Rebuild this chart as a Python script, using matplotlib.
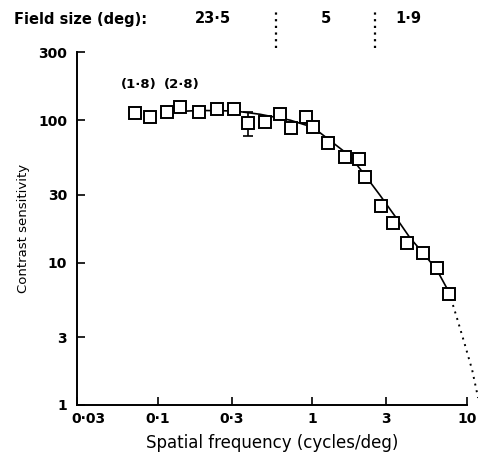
import numpy as np
import matplotlib.pyplot as plt
from matplotlib.transforms import blended_transform_factory, ScaledTranslation

plt.rcParams['font.family'] = ['DejaVu Sans']

# measured points (spatial frequency c/deg, contrast sensitivity)
freq = [0.071, 0.089, 0.115, 0.139, 0.185, 0.242, 0.311, 0.383, 0.493, 0.617,
        0.726, 0.908, 1.01, 1.26, 1.62, 2.0, 2.19, 2.78, 3.32, 4.09, 5.19, 6.39, 7.64]
sens = [112, 105, 114, 123, 114, 119, 119, 95, 97, 110,
        88, 105, 89, 69, 55, 53, 40, 24.9, 18.9, 13.7, 11.7, 9.15, 6.0]

# error bar on one point only
err_idx = 7
err_low = 77
err_high = 114

# fitted curve
fit_x = [0.115, 0.186, 0.315, 0.458, 0.718, 1.01, 1.30, 1.75, 2.19, 2.73,
         3.42, 4.28, 5.19, 6.39, 7.64]
fit_y = [114, 117, 116, 110, 100, 89, 72, 56, 41, 29.8, 21.2, 14.9, 11.7, 8.86, 6.21]
extrap_x = [7.64, 8.61, 9.70, 10.8, 11.8]
extrap_y = [6.21, 4.08, 2.64, 1.76, 1.12]

xticks = [0.03, 0.1, 0.3, 1, 3, 10]
xlabels = ['0·03', '0·1', '0·3', '1', '3', '10']
yticks = [1, 3, 10, 30, 100, 300]
ylabels = ['1', '3', '10', '30', '100', '300']

# field size bands
field_labels = ['23·5', '5', '1·9']
field_label_x = [0.228, 1.22, 4.15]
field_bounds = [0.58, 2.54]

fig = plt.figure(figsize=(4.78, 4.54), dpi=100)
ax = fig.add_axes([0.161, 0.108, 0.816, 0.777])

ax.plot(fit_x, fit_y, color='black', lw=1.2, zorder=2)
ax.plot(extrap_x, extrap_y, color='black', lw=1.4, ls=(0, (1, 2.5)), zorder=2,
        clip_on=False)

ax.plot(freq, sens, ls='none', marker='s', ms=8.2, mfc='white', mec='black',
        mew=1.4, zorder=3)
ax.errorbar([freq[err_idx]], [sens[err_idx]],
            yerr=[[sens[err_idx] - err_low], [err_high - sens[err_idx]]],
            fmt='none', ecolor='black', elinewidth=1.2, capsize=3.5, capthick=1.2,
            zorder=2)

ax.annotate('(1·8)', (freq[0], sens[0]), xytext=(3, 16), textcoords='offset points',
            ha='center', va='bottom', fontsize=9.5, fontweight='bold')
ax.annotate('(2·8)', (freq[3], sens[3]), xytext=(1, 12), textcoords='offset points',
            ha='center', va='bottom', fontsize=9.5, fontweight='bold')

ax.set_xscale('log')
ax.set_yscale('log')
ax.set_xlim(0.03, 10)
ax.set_ylim(1, 300)
ax.set_xticks(xticks)
ax.set_xticklabels(xlabels)
ax.set_yticks(yticks)
ax.set_yticklabels(ylabels)
ax.minorticks_off()
ax.tick_params(direction='in', length=6, width=1.2, labelsize=10)
ax.tick_params(axis='x', pad=5)
ax.tick_params(axis='y', pad=7)
for lab in ax.get_xticklabels() + ax.get_yticklabels():
    lab.set_fontweight('bold')

# first x label sits to the right so it clears the "1" on the y axis
first = ax.get_xticklabels()[0]
first.set_ha('left')
first.set_transform(first.get_transform() + ScaledTranslation(-6 / 100, 0, fig.dpi_scale_trans))

for s in ['top', 'right']:
    ax.spines[s].set_visible(False)
for s in ['left', 'bottom']:
    ax.spines[s].set_linewidth(1.4)

ax.set_xlabel('Spatial frequency (cycles/deg)', fontsize=12, labelpad=6)
ax.set_ylabel('Contrast sensitivity', fontsize=9.5, labelpad=6)

# header above the plot
trans = blended_transform_factory(ax.transData, ax.transAxes)
fig.text(0.03, 0.957, 'Field size (deg):', fontsize=10.5, fontweight='bold',
         ha='left', va='center')
for fx, lab in zip(field_label_x, field_labels):
    ax.text(fx, 1.096, lab, transform=trans, fontsize=10.5, fontweight='bold',
            ha='center', va='center')
for b in field_bounds:
    ax.plot([b, b], [1.011, 1.125], transform=trans, color='black', lw=1.6,
            ls=(0, (1, 2)), clip_on=False)

fig.savefig('out.png', dpi=100)
